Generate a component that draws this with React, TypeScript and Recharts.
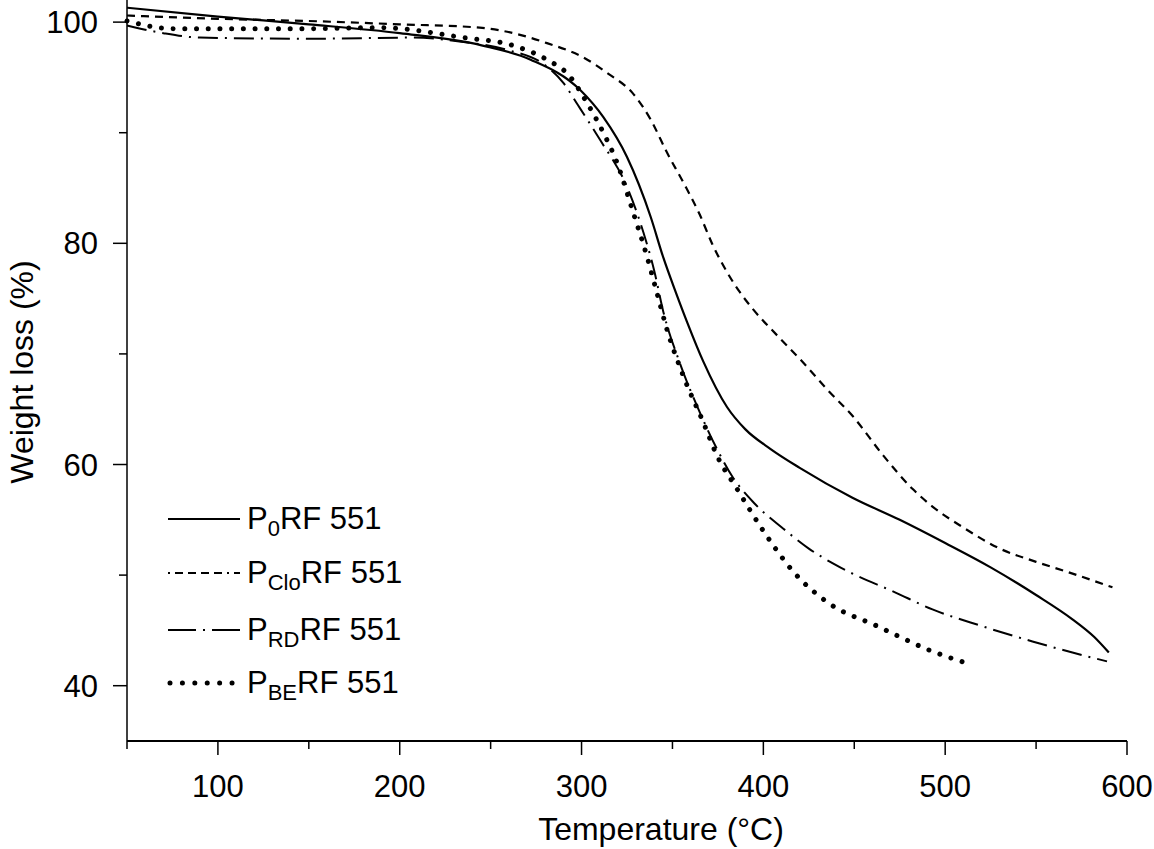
import { LineChart, Line, XAxis, YAxis, Legend } from "recharts";

// TGA curves
const p0Temp = [50, 100, 150, 200, 245, 272, 299, 312, 325, 338, 345, 352, 358, 367, 380, 390, 404, 420, 449, 475, 500, 525, 550, 570, 582, 590];
const p0Weight = [101.3, 100.5, 99.8, 99.0, 97.9, 96.6, 93.9, 91.4, 87.8, 82.4, 78.7, 75.5, 72.9, 69.3, 65.2, 63.2, 61.4, 59.7, 57.0, 55.0, 52.9, 50.7, 48.2, 46.0, 44.4, 43.0];

const cloTemp = [50, 100, 150, 200, 244, 265, 281, 300, 315, 328, 338, 347, 356, 365, 372, 380, 387, 394, 408, 422, 435, 449, 466, 482, 493, 510, 530, 550, 567, 592];
const cloWeight = [100.6, 100.3, 100.1, 99.8, 99.5, 98.9, 98.1, 96.9, 95.3, 93.6, 91.2, 88.2, 85.5, 82.6, 79.9, 77.4, 75.6, 74.1, 71.6, 69.2, 66.8, 64.4, 60.8, 57.8, 56.2, 54.3, 52.4, 51.2, 50.3, 48.9];

const rdTemp = [50, 70, 90, 150, 207, 235, 259, 280, 290, 298, 310, 325, 334, 340, 345, 354, 363.5, 374.5, 383, 395, 411, 425, 440, 473, 493, 520, 548, 570, 589];
const rdWeight = [99.7, 99.0, 98.6, 98.5, 98.6, 98.2, 97.5, 96.1, 94.5, 92.5, 89.4, 85.1, 81.0, 77.5, 73.8, 69.2, 65.3, 61.4, 58.9, 56.5, 54.2, 52.4, 50.9, 48.4, 46.9, 45.4, 44.0, 43.0, 42.2];

const beTemp = [50, 76, 150, 189, 235, 262, 281, 293, 303, 312, 319.5, 328, 336, 341.5, 347, 356, 367, 374.5, 385.5, 400, 416, 436.5, 462.5, 474, 490, 512.5];
const beWeight = [100.1, 99.4, 99.4, 99.5, 98.6, 97.9, 96.6, 95.2, 92.7, 90.0, 87.3, 83.0, 78.8, 75.5, 72.2, 68.0, 63.8, 60.8, 57.8, 54.0, 50.4, 47.4, 45.4, 44.5, 43.3, 42.0];

const xTicks = [50, 100, 150, 200, 250, 300, 350, 400, 450, 500, 550, 600];
const xLabels = [100, 200, 300, 400, 500, 600];
const yTicks = [40, 50, 60, 70, 80, 90, 100];
const yLabels = [40, 60, 80, 100];

const toPoints = (t: number[], w: number[]) => t.map((v, i) => ({ t: v, w: w[i] }));

const series = [
  { key: "p0", sub: "0", data: toPoints(p0Temp, p0Weight), width: 2.2, dash: undefined, legendDash: undefined, cap: "butt" },
  { key: "clo", sub: "Clo", data: toPoints(cloTemp, cloWeight), width: 2.2, dash: "8 6", legendDash: "2 5 8 5 8 5 8 5 8 5", cap: "butt" },
  { key: "rd", sub: "RD", data: toPoints(rdTemp, rdWeight), width: 2, dash: "20 7 2 7", legendDash: "28 7 2 7 28", cap: "butt" },
  { key: "be", sub: "BE", data: toPoints(beTemp, beWeight), width: 5, dash: "0.01 11.7", legendDash: "0.01 12.4", cap: "round" },
];

const FONT = "'Liberation Sans', Arial, Helvetica, sans-serif";

const XTick = (props: any) => {
  const { x, y, payload } = props;
  const major = xLabels.includes(payload.value);
  return (
    <g>
      <line x1={x} x2={x} y1={y} y2={y + (major ? 14 : 8)} stroke="#000" strokeWidth={1.5} />
      {major && (
        <text x={x} y={y + 56} textAnchor="middle" fontSize={31} fill="#000">
          {payload.value}
        </text>
      )}
    </g>
  );
};

const YTick = (props: any) => {
  const { x, y, payload } = props;
  const major = yLabels.includes(payload.value);
  return (
    <g>
      <line x1={x - (major ? 14 : 8)} x2={x} y1={y} y2={y} stroke="#000" strokeWidth={1.5} />
      {major && (
        <text x={x - 29} y={y + 11} textAnchor="end" fontSize={31} fill="#000">
          {payload.value}
        </text>
      )}
    </g>
  );
};

const rowY = [29, 83, 140, 193];

const renderLegend = () => (
  <svg width={320} height={220} style={{ fontFamily: FONT }}>
    {series.map((s, i) => (
      <g key={s.key}>
        <line
          x1={s.cap === "round" ? 10 : 8}
          x2={80}
          y1={rowY[i]}
          y2={rowY[i]}
          stroke="#000"
          strokeWidth={s.key === "be" ? 5 : 2.2}
          strokeDasharray={s.legendDash}
          strokeLinecap={s.cap as any}
        />
        <text x={87} y={rowY[i] + 10} fontSize={31} fill="#000">
          P
          <tspan fontSize={22} dy={7}>
            {s.sub}
          </tspan>
          <tspan dy={-7}>RF 551</tspan>
        </text>
      </g>
    ))}
  </svg>
);

export default function App() {
  return (
    <div style={{ position: "absolute", left: 0, top: 0, fontFamily: FONT }}>
      <LineChart width={1154} height={849} margin={{ top: 0, right: 27, bottom: 0, left: 0 }}>
        <XAxis
          type="number"
          dataKey="t"
          domain={[50, 600]}
          ticks={xTicks}
          interval={0}
          height={108}
          tickSize={0}
          tickMargin={0}
          tickLine={false}
          tick={<XTick />}
          axisLine={{ stroke: "#000", strokeWidth: 2 }}
          label={{
            content: ({ viewBox }: any) => (
              <text x={viewBox.x + 534} y={viewBox.y + 99} textAnchor="middle" fontSize={32} fill="#000">
                Temperature (°C)
              </text>
            ),
          }}
        />
        <YAxis
          type="number"
          domain={[35, 102]}
          ticks={yTicks}
          interval={0}
          width={127}
          tickSize={0}
          tickMargin={0}
          tickLine={false}
          tick={<YTick />}
          axisLine={{ stroke: "#000", strokeWidth: 1.5 }}
          label={{
            content: () => (
              <text
                x={33}
                y={372}
                transform="rotate(-90 33 372)"
                textAnchor="middle"
                fontSize={32}
                fill="#000"
              >
                Weight loss (%)
              </text>
            ),
          }}
        />
        <Legend
          layout="vertical"
          align="center"
          verticalAlign="middle"
          content={renderLegend}
          wrapperStyle={{ position: "absolute", left: 160, top: 490, width: 320, height: 220 }}
        />
        {series.map((s) => (
          <Line
            key={s.key}
            data={s.data}
            dataKey="w"
            type="monotone"
            stroke="#000"
            strokeWidth={s.width}
            strokeDasharray={s.dash}
            strokeLinecap={s.cap as any}
            dot={false}
            activeDot={false}
            isAnimationActive={false}
          />
        ))}
      </LineChart>
    </div>
  );
}
